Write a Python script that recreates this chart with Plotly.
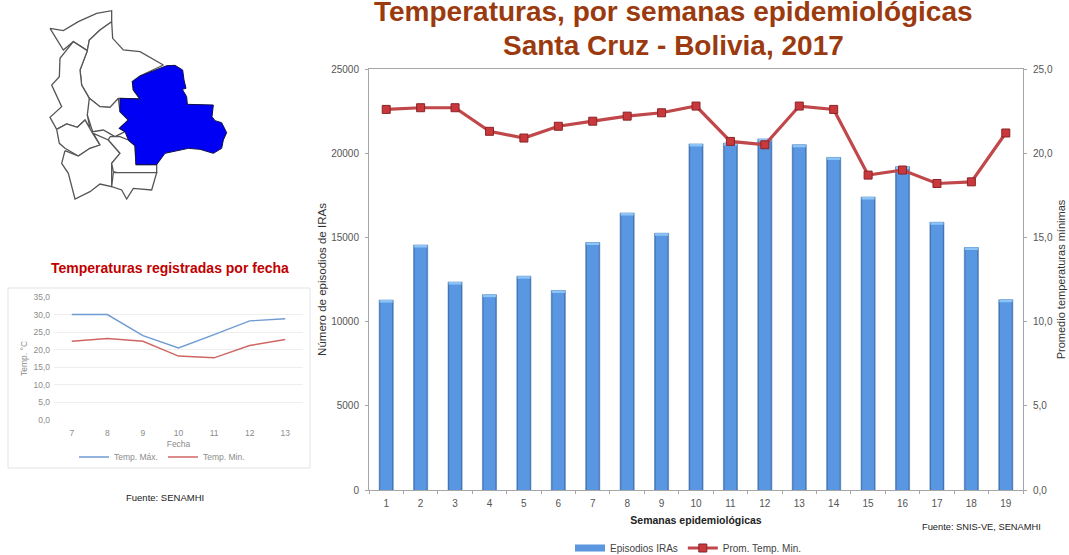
import plotly.graph_objects as go

W, H = 1069, 555

weeks = [str(i) for i in range(1, 20)]
episodios = [11280, 14550, 12350, 11600, 12700, 11850, 14700, 16450, 15250, 20550,
             20600, 20850, 20500, 19750, 17400, 19200, 15900, 14400, 11300]
temp_min_sem = [22.6, 22.7, 22.7, 21.3, 20.9, 21.6, 21.9, 22.2, 22.4, 22.8,
                20.7, 20.5, 22.8, 22.6, 18.7, 19.0, 18.2, 18.3, 21.2]
cap_height = [150] * 19

fechas = ['7', '8', '9', '10', '11', '12', '13']
temp_max = [30.0, 30.0, 24.0, 20.5, 24.3, 28.2, 28.8]
temp_min = [22.4, 23.2, 22.4, 18.2, 17.7, 21.2, 22.9]

MAP_ZOOM = 3
pando = [(150, 85), (190, 92), (235, 65), (290, 40), (335, 32), (335, 65), (300, 90), (268, 120),
         (262, 152), (220, 125), (190, 150), (150, 85)]
beni = [(335, 65), (338, 115), (370, 150), (420, 155), (490, 195), (420, 228), (397, 245), (400, 270),
        (420, 297), (355, 295), (330, 322), (300, 320), (268, 295), (245, 255), (240, 210), (262, 152),
        (268, 120), (300, 90), (335, 65)]
la_paz = [(262, 152), (240, 210), (245, 255), (268, 295), (275, 330), (262, 345), (270, 385), (255, 360),
          (232, 382), (200, 372), (170, 388), (150, 352), (185, 320), (165, 280), (155, 255), (178, 230),
          (180, 175), (220, 125), (262, 152)]
oruro = [(170, 388), (200, 372), (232, 382), (255, 360), (278, 400), (300, 435), (270, 445), (235, 468),
         (195, 445), (178, 430), (170, 388)]
potosi = [(195, 452), (235, 468), (270, 445), (300, 435), (280, 400), (325, 420), (360, 460), (335, 490),
          (335, 560), (300, 552), (270, 575), (225, 597), (205, 520), (185, 490), (195, 452)]
cochabamba = [(268, 295), (300, 320), (330, 322), (355, 295), (360, 335), (385, 360), (358, 385), (375, 395),
              (345, 410), (310, 390), (278, 395), (262, 345), (268, 295)]
chuquisaca = [(330, 410), (360, 410), (385, 420), (405, 437), (408, 494), (470, 494), (470, 518), (390, 518),
              (360, 520), (340, 515), (335, 490), (360, 460), (325, 420), (330, 410)]
tarija = [(340, 518), (470, 518), (455, 570), (400, 565), (380, 597), (365, 570), (335, 560), (340, 518)]
santa_cruz = [(500, 197), (525, 196), (548, 210), (552, 240), (558, 265), (547, 268), (560, 290), (562, 313),
              (640, 315), (636, 350), (645, 362), (665, 368), (680, 398), (670, 420), (665, 445), (640, 460),
              (600, 448), (565, 445), (495, 460), (470, 494), (408, 494), (405, 437), (385, 420), (375, 395),
              (358, 385), (385, 360), (360, 335), (360, 295), (420, 297), (400, 270), (397, 245), (420, 228),
              (500, 197)]
otros = [pando, beni, la_paz, oruro, potosi, cochabamba, chuquisaca, tarija]

FONT = 'Liberation Sans'


def px(x):
    return x / W


def py(y):
    return 1 - y / H


fig = go.Figure()

# main chart: dark outer bar, lighter inner bar and a pale cap for the bevelled look
fig.add_trace(go.Bar(x=weeks, y=episodios, width=0.41, showlegend=False,
                     marker=dict(color='#4677b8', line=dict(color='#3f70ad', width=0.5)),
                     xaxis='x', yaxis='y'))
fig.add_trace(go.Bar(x=weeks, y=episodios, width=0.34, showlegend=False, hoverinfo='skip',
                     marker=dict(color='#5a97e2', line=dict(width=0)), xaxis='x', yaxis='y'))
fig.add_trace(go.Bar(x=weeks, y=cap_height, base=[v - 150 for v in episodios], width=0.38,
                     marker=dict(color='#8cc4f5', line=dict(width=0)), showlegend=False,
                     hoverinfo='skip', xaxis='x', yaxis='y'))
# wide legend swatch for the bars
fig.add_trace(go.Scatter(x=[None], y=[None], mode='lines', name='Episodios IRAs',
                         line=dict(color='#5b96df', width=7), legend='legend',
                         xaxis='x', yaxis='y'))
fig.add_trace(go.Scatter(x=weeks, y=temp_min_sem, mode='lines+markers', name='Prom. Temp. Min.',
                         line=dict(color='#c0474a', width=3.2),
                         marker=dict(symbol='square', size=8, color='#c9383c',
                                     line=dict(color='#8a2426', width=1)),
                         legend='legend', xaxis='x', yaxis='y2'))

# small chart
fig.add_trace(go.Scatter(x=fechas, y=temp_max, mode='lines', name='Temp. Máx.',
                         line=dict(color='#6f9bd3', width=1.4), legend='legend2',
                         xaxis='x2', yaxis='y3'))
fig.add_trace(go.Scatter(x=fechas, y=temp_min, mode='lines', name='Temp. Min.',
                         line=dict(color='#cf6664', width=1.4), legend='legend2',
                         xaxis='x2', yaxis='y3'))

# map
for region in otros:
    fig.add_trace(go.Scatter(x=[p[0] / MAP_ZOOM for p in region], y=[p[1] / MAP_ZOOM for p in region],
                             mode='lines', line=dict(color='#555555', width=1.3), fill='toself',
                             fillcolor='white', showlegend=False, hoverinfo='skip',
                             xaxis='x3', yaxis='y4'))
fig.add_trace(go.Scatter(x=[p[0] / MAP_ZOOM for p in santa_cruz], y=[p[1] / MAP_ZOOM for p in santa_cruz],
                         mode='lines', line=dict(color='#10104a', width=1), fill='toself',
                         fillcolor='#0000f5', showlegend=False, hoverinfo='skip',
                         xaxis='x3', yaxis='y4'))

axis_grey = '#a6a6a6'
tick_font = dict(family=FONT, size=10, color='#555555')
small_font = dict(family=FONT, size=8.5, color='#8c8c8c')
title_font = dict(family=FONT, size=28, color='#9b3a0e')

fig.update_layout(
    width=W, height=H, autosize=False, margin=dict(l=0, r=0, t=0, b=0, autoexpand=False),
    paper_bgcolor='white', plot_bgcolor='white', barmode='overlay',
    showlegend=True, font=dict(family=FONT),
    xaxis=dict(domain=[px(369), px(1023)], type='category', range=[-0.5, 18.5], tickson='boundaries',
               ticks='outside', ticklen=3, tickcolor=axis_grey, showline=True, linecolor=axis_grey,
               mirror=True, showgrid=False, tickfont=tick_font, anchor='y', ticklabelstandoff=4,
               title=dict(text='<b>Semanas epidemiológicas</b>', standoff=8,
                          font=dict(family=FONT, size=10.5, color='#222222'))),
    yaxis=dict(domain=[py(490), py(69)], range=[0, 25000], tickvals=[0, 5000, 10000, 15000, 20000, 25000],
               ticks='outside', ticklen=3, tickcolor=axis_grey, showline=True, linecolor=axis_grey,
               showgrid=False, tickfont=tick_font, tickformat='d', ticklabelstandoff=4,
               title=dict(text='Número de episodios de IRAs', standoff=2,
                          font=dict(family=FONT, size=11.5, color='#333333'))),
    yaxis2=dict(domain=[py(490), py(69)], overlaying='y', side='right', anchor='x', range=[0, 25],
                tickvals=[0, 5, 10, 15, 20, 25], ticktext=['0,0', '5,0', '10,0', '15,0', '20,0', '25,0'],
                ticks='outside', ticklen=3, tickcolor=axis_grey, showline=True, linecolor=axis_grey,
                showgrid=False, tickfont=tick_font, ticklabelstandoff=4,
                title=dict(text='Promedio temperaturas mínimas', standoff=5,
                           font=dict(family=FONT, size=11, color='#333333'))),
    xaxis2=dict(domain=[px(54), px(303)], type='category', range=[-0.5, 6.5], showgrid=False,
                showline=False, ticks='', tickfont=small_font, anchor='y3', ticklabelstandoff=6,
                title=dict(text='Fecha', standoff=4, font=small_font)),
    yaxis3=dict(domain=[py(420), py(297)], range=[0, 35], tickvals=[0, 5, 10, 15, 20, 25, 30, 35],
                ticktext=['0,0', '5,0', '10,0', '15,0', '20,0', '25,0', '30,0', '35,0'],
                anchor='x2', showgrid=True, gridcolor='#eeeeee', gridwidth=1, zeroline=False,
                showline=False, ticks='', tickfont=small_font, ticklabelstandoff=3,
                title=dict(text='Temp. °C', standoff=4, font=small_font)),
    xaxis3=dict(domain=[0, px(300)], range=[0, 300], visible=False, anchor='y4'),
    yaxis4=dict(domain=[py(210), 1], range=[210, 0], visible=False, anchor='x3'),
    legend=dict(orientation='h', x=px(570), y=py(548), xanchor='left', yanchor='middle',
                font=dict(family=FONT, size=10, color='#444444'), bgcolor='rgba(0,0,0,0)', itemwidth=30),
    legend2=dict(orientation='h', x=px(74), y=py(457), xanchor='left', yanchor='middle',
                 font=small_font, bgcolor='rgba(0,0,0,0)', itemwidth=30),
    shapes=[dict(type='rect', xref='paper', yref='paper', x0=px(8), x1=px(310), y0=py(468), y1=py(288),
                 line=dict(color='#e3e3e3', width=1), fillcolor='rgba(0,0,0,0)', layer='below')],
    annotations=[
        dict(text='<b>Temperaturas, por semanas epidemiológicas</b>', xref='paper', yref='paper',
             x=px(673), y=py(11), xanchor='center', yanchor='middle', showarrow=False, font=title_font),
        dict(text='<b>Santa Cruz - Bolivia, 2017</b>', xref='paper', yref='paper',
             x=px(673), y=py(45), xanchor='center', yanchor='middle', showarrow=False, font=title_font),
        dict(text='<b>Temperaturas registradas por fecha</b>', xref='paper', yref='paper',
             x=px(170), y=py(268), xanchor='center', yanchor='middle', showarrow=False,
             font=dict(family=FONT, size=14, color='#c00000')),
        dict(text='Fuente: SENAMHI', xref='paper', yref='paper', x=px(165), y=py(497), xanchor='center',
             yanchor='middle', showarrow=False, font=dict(family=FONT, size=9.5, color='#222222')),
        dict(text='Fuente: SNIS-VE, SENAMHI', xref='paper', yref='paper', x=px(981), y=py(527), xanchor='center',
             yanchor='middle', showarrow=False, font=dict(family=FONT, size=9.3, color='#222222')),
    ],
)

# the page's default body margin would shift everything by 8px
fig.write_html("out.html", post_script="document.body.style.margin='0';",
               config=dict(displayModeBar=False))
